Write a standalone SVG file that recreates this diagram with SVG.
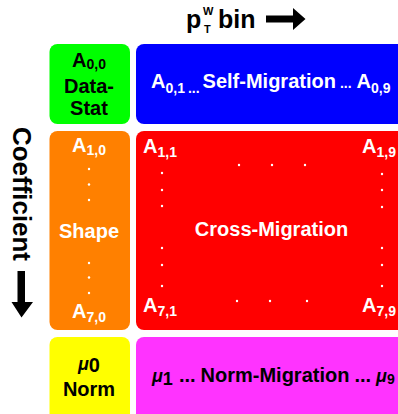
<svg xmlns="http://www.w3.org/2000/svg" width="398" height="414" viewBox="0 0 398 414">
<style>
text{font-family:"Liberation Sans",Arial,sans-serif;font-weight:bold;}
.w{fill:#fff;}
.k{fill:#000;}
.m{font-size:20px;}
.s{font-size:14px;}
.dot{fill:#fff;}
</style>
<rect width="398" height="414" fill="#fff"/>
<g id="title">
<text class="k" x="186" y="28" font-size="25">p<tspan x="203" y="15" font-size="11">W</tspan><tspan x="204" y="33" font-size="11">T</tspan><tspan x="218" y="28">bin</tspan></text>
<polygon points="266,15.5 293,15.5 293,8 305.5,19 293,30 293,22.5 266,22.5" fill="#000"/>
</g>
<g id="coefficient">
<text class="k" transform="translate(13,127) rotate(90)" font-size="26" textLength="134" lengthAdjust="spacingAndGlyphs">Coefficient</text>
<polygon points="17.5,271 25,271 25,302 33,302 21.5,317.5 11.5,302 17.5,302" fill="#000"/>
</g>
<g id="datastat">
<rect x="49.5" y="44" width="80.5" height="80" rx="8" fill="#00ff00"/>
<text class="k m" x="89" y="67" text-anchor="middle">A<tspan class="s" dy="2">0,0</tspan></text>
<text class="k m" x="89" y="93" text-anchor="middle">Data-</text>
<text class="k m" x="89" y="115" text-anchor="middle">Stat</text>
</g>
<g id="selfmig">
<rect x="136" y="44" width="280" height="80" rx="8" fill="#0000ff"/>
<text class="w m" x="151" y="88">A<tspan class="s" dy="5">0,1</tspan><tspan class="s" dx="3">...</tspan><tspan dx="3" dy="-5">Self-Migration</tspan><tspan class="s" dx="4">...</tspan><tspan dx="5">A</tspan><tspan class="s" dy="5">0,9</tspan></text>
</g>
<g id="shape">
<rect x="49.5" y="131" width="80.5" height="199" rx="8" fill="#ff8000"/>
<text class="w m" x="89" y="152" text-anchor="middle">A<tspan class="s" dy="3">1,0</tspan></text>
<circle class="dot" cx="89" cy="169" r="1.2"/>
<circle class="dot" cx="89" cy="184.5" r="1.2"/>
<circle class="dot" cx="89" cy="200" r="1.2"/>
<text class="w m" x="89" y="238" text-anchor="middle">Shape</text>
<circle class="dot" cx="89" cy="263" r="1.2"/>
<circle class="dot" cx="89" cy="277.5" r="1.2"/>
<circle class="dot" cx="89" cy="293" r="1.2"/>
<text class="w m" x="89" y="318" text-anchor="middle">A<tspan class="s" dy="4">7,0</tspan></text>
</g>
<g id="crossmig">
<rect x="136" y="131" width="280" height="199" rx="8" fill="#ff0000"/>
<text class="w m" x="143" y="153">A<tspan class="s" dy="4">1,1</tspan></text>
<text class="w m" x="362" y="153">A<tspan class="s" dy="4">1,9</tspan></text>
<text class="w m" x="143" y="312">A<tspan class="s" dy="4">7,1</tspan></text>
<text class="w m" x="362" y="312">A<tspan class="s" dy="4">7,9</tspan></text>
<text class="w m" x="271.5" y="236" text-anchor="middle">Cross-Migration</text>
<circle class="dot" cx="162" cy="173" r="1.2"/>
<circle class="dot" cx="162" cy="190" r="1.2"/>
<circle class="dot" cx="162" cy="206" r="1.2"/>
<circle class="dot" cx="162" cy="248" r="1.2"/>
<circle class="dot" cx="162" cy="265" r="1.2"/>
<circle class="dot" cx="162" cy="286" r="1.2"/>
<circle class="dot" cx="382" cy="174" r="1.2"/>
<circle class="dot" cx="382" cy="190" r="1.2"/>
<circle class="dot" cx="382" cy="207" r="1.2"/>
<circle class="dot" cx="382" cy="248" r="1.2"/>
<circle class="dot" cx="382" cy="265" r="1.2"/>
<circle class="dot" cx="382" cy="286" r="1.2"/>
<circle class="dot" cx="239" cy="165" r="1.2"/>
<circle class="dot" cx="272" cy="165" r="1.2"/>
<circle class="dot" cx="305" cy="165" r="1.2"/>
<circle class="dot" cx="237" cy="301" r="1.2"/>
<circle class="dot" cx="270" cy="301" r="1.2"/>
<circle class="dot" cx="307" cy="301" r="1.2"/>
</g>
<g id="norm">
<rect x="49.5" y="337" width="80.5" height="90" rx="8" fill="#ffff00"/>
<text class="k m" x="89" y="370" text-anchor="middle"><tspan font-style="italic" font-size="18">μ</tspan><tspan dy="2">0</tspan></text>
<text class="k m" x="89" y="396" text-anchor="middle">Norm</text>
</g>
<g id="normmig">
<rect x="136" y="337" width="280" height="90" rx="8" fill="#ff33ff"/>
<text class="k m" x="152" y="382"><tspan font-style="italic" font-size="18">μ</tspan><tspan dy="3" font-size="18">1</tspan><tspan dx="6" dy="-3">...</tspan><tspan dx="5">Norm-Migration</tspan><tspan dx="5">...</tspan><tspan dx="5" font-style="italic" font-size="18">μ</tspan><tspan class="s" dy="2">9</tspan></text>
</g>
<g id="connectors"></g>
</svg>
